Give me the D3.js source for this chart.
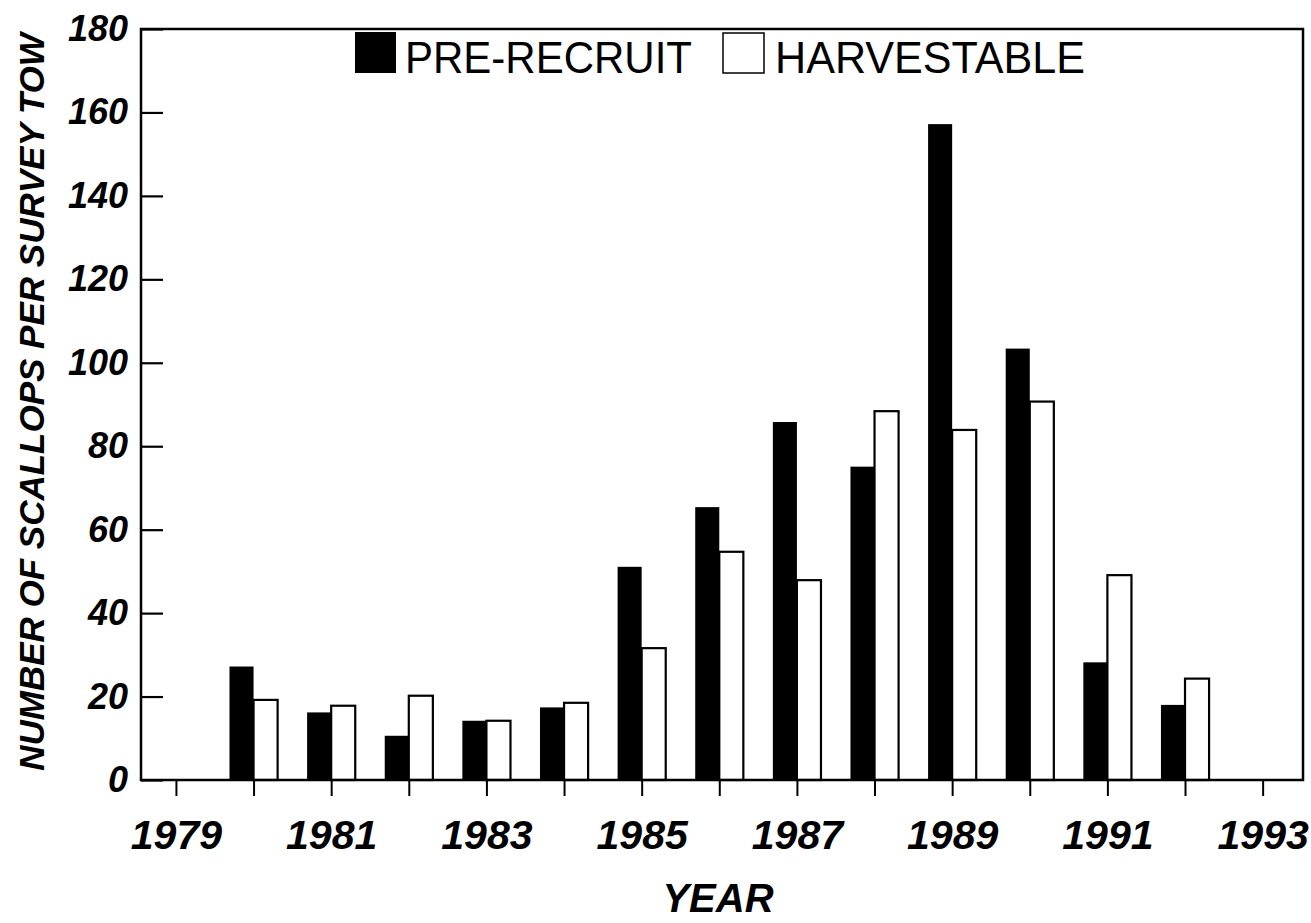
<!DOCTYPE html>
<html>
<head>
<meta charset="utf-8">
<script src="https://cdn.jsdelivr.net/npm/d3@7"></script>
<style>
  body { margin: 0; background: #fff; }
  text { font-family: "Liberation Sans", Arial, sans-serif; }
</style>
</head>
<body>
<div id="chart"></div>
<script>
// scallop survey, bars per year
var years = [1980, 1981, 1982, 1983, 1984, 1985, 1986, 1987, 1988, 1989, 1990, 1991, 1992];
var preRecruit = [27.2, 16.2, 10.6, 14.2, 17.4, 51.1, 65.4, 85.8, 75.1, 157.2, 103.4, 28.2, 18];
var harvestable = [19.2, 17.8, 20.2, 14.2, 18.5, 31.6, 54.7, 47.9, 88.4, 83.9, 90.7, 49.1, 24.3];
var yTicks = [0, 20, 40, 60, 80, 100, 120, 140, 160, 180];
var xTicks = d3.range(1979, 1994);
var xLabels = [1979, 1981, 1983, 1985, 1987, 1989, 1991, 1993];

var w = 1311, h = 923;
var pLeft = 141, pRight = 1303, pTop = 29, pBottom = 780;

var svg = d3.select("#chart").append("svg")
    .attr("width", w)
    .attr("height", h);

var x = d3.scaleLinear()
    .domain([1978.55, 1993.52])
    .range([pLeft, pRight]);

var y = d3.scaleLinear()
    .domain([0, 180])
    .range([pBottom, pTop]);

var bw = x(1980.31) - x(1980);

// bars
svg.selectAll(".pre")
    .data(years)
    .enter().append("rect")
    .attr("class", "pre")
    .attr("x", function(d) { return x(d) - bw; })
    .attr("width", bw)
    .attr("y", function(d, i) { return y(preRecruit[i]); })
    .attr("height", function(d, i) { return pBottom - y(preRecruit[i]); })
    .attr("fill", "#000");

svg.selectAll(".harv")
    .data(years)
    .enter().append("rect")
    .attr("class", "harv")
    .attr("x", function(d) { return x(d); })
    .attr("width", bw)
    .attr("y", function(d, i) { return y(harvestable[i]); })
    .attr("height", function(d, i) { return pBottom - y(harvestable[i]); })
    .attr("fill", "#fff")
    .attr("stroke", "#000")
    .attr("stroke-width", 2.2);

// y axis, ticks point inward
var yAxis = svg.append("g")
    .attr("transform", "translate(" + pLeft + ",0)")
    .call(d3.axisLeft(y).tickValues(yTicks).tickSize(-22).tickPadding(13));
yAxis.select(".domain").remove();
yAxis.selectAll("line").attr("stroke", "#000").attr("stroke-width", 2.2);
yAxis.selectAll("text")
    .style("font-size", "36px")
    .style("font-weight", "bold")
    .style("font-style", "italic")
    .attr("fill", "#000");

// x axis, every year ticked, odd years labelled
var xAxis = svg.append("g")
    .attr("transform", "translate(0," + pBottom + ")")
    .call(d3.axisBottom(x).tickValues(xTicks).tickSize(16).tickPadding(24)
        .tickFormat(function(d) { return xLabels.indexOf(d) >= 0 ? d : ""; }));
xAxis.select(".domain").remove();
xAxis.selectAll("line").attr("stroke", "#000").attr("stroke-width", 2);
xAxis.selectAll("text")
    .style("font-size", "41px")
    .style("font-weight", "bold")
    .style("font-style", "italic")
    .attr("fill", "#000");

// frame
svg.append("rect")
    .attr("x", pLeft)
    .attr("y", pTop)
    .attr("width", pRight - pLeft)
    .attr("height", pBottom - pTop)
    .attr("fill", "none")
    .attr("stroke", "#000")
    .attr("stroke-width", 2.5);

// legend
svg.append("rect")
    .attr("x", 355).attr("y", 32)
    .attr("width", 41).attr("height", 41)
    .attr("fill", "#000");
svg.append("text")
    .attr("x", 405).attr("y", 73)
    .attr("textLength", 287)
    .attr("lengthAdjust", "spacingAndGlyphs")
    .style("font-size", "45px")
    .text("PRE-RECRUIT");
svg.append("rect")
    .attr("x", 723).attr("y", 33)
    .attr("width", 41).attr("height", 40)
    .attr("fill", "#fff")
    .attr("stroke", "#000")
    .attr("stroke-width", 1.5);
svg.append("text")
    .attr("x", 775).attr("y", 73)
    .attr("textLength", 310)
    .attr("lengthAdjust", "spacingAndGlyphs")
    .style("font-size", "45px")
    .text("HARVESTABLE");

// axis titles
svg.append("text")
    .attr("transform", "translate(44,402) rotate(-90)")
    .attr("text-anchor", "middle")
    .style("font-size", "35px")
    .style("font-weight", "bold")
    .style("font-style", "italic")
    .text("NUMBER OF SCALLOPS PER SURVEY TOW");

svg.append("text")
    .attr("x", 718).attr("y", 912)
    .attr("text-anchor", "middle")
    .style("font-size", "40px")
    .style("font-weight", "bold")
    .style("font-style", "italic")
    .text("YEAR");
</script>
</body>
</html>
